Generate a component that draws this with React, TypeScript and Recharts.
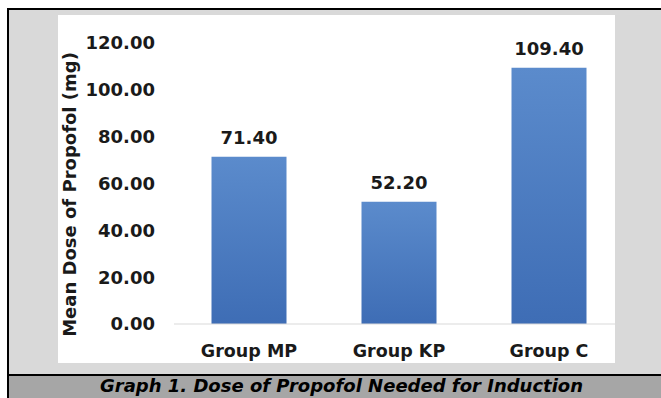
import React from 'react';
import { BarChart, Bar, XAxis, YAxis, LabelList } from 'recharts';

const groups = ['Group MP', 'Group KP', 'Group C'];
const meanDose = [71.4, 52.2, 109.4];
const yTicks = [0, 20, 40, 60, 80, 100, 120];

const FONT = '"DejaVu Sans", Verdana, sans-serif';

const data = groups.map((g, i) => ({ group: g, dose: meanDose[i] }));

const fmt = (v: number) => v.toFixed(2);

// rotated y-axis title, placed relative to the axis box
const YTitle = (props: any) => {
  const { viewBox } = props;
  const cx = viewBox.x + 5;
  const cy = viewBox.y + viewBox.height / 2 + 11;
  return (
    <text
      x={cx}
      y={cy}
      transform={`rotate(-90 ${cx} ${cy})`}
      textAnchor="middle"
      dominantBaseline="central"
      fontFamily={FONT}
      fontWeight="bold"
      fontSize={18}
      fill="#1a1a1a"
    >
      Mean Dose of Propofol (mg)
    </text>
  );
};

const App: React.FC = () => {
  return (
    <div style={{ position: 'absolute', left: 0, top: 0, width: 661, height: 398, overflow: 'hidden', background: '#fff' }}>
      {/* framed grey panel */}
      <div style={{ position: 'absolute', left: 7, top: 8, width: 700, height: 400, background: '#d9d9d9', borderTop: '2px solid #000', borderLeft: '2px solid #000' }} />
      {/* white chart area */}
      <div style={{ position: 'absolute', left: 58, top: 15, width: 557, height: 348, background: '#fff' }} />
      {/* caption strip */}
      <div
        style={{
          position: 'absolute', left: 9, top: 374, width: 700, height: 30, background: '#a6a6a6',
          borderTop: '2px solid #000',
        }}
      />
      <div
        style={{
          position: 'absolute', left: 100, top: 375, fontFamily: FONT, fontWeight: 'bold', fontStyle: 'italic',
          fontSize: 18, lineHeight: '22px', color: '#000', whiteSpace: 'nowrap',
        }}
      >
        Graph 1. Dose of Propofol Needed for Induction
      </div>

      <div style={{ position: 'absolute', left: 0, top: 0 }}>
        <BarChart width={661} height={398} data={data} margin={{ top: 43, right: 37, bottom: 44, left: 64 }} barCategoryGap="25%">
          <defs>
            <linearGradient id="barFill" x1="0" y1="0" x2="0" y2="1">
              <stop offset="0%" stopColor="#5b8bcc" />
              <stop offset="100%" stopColor="#3e6db5" />
            </linearGradient>
          </defs>
          <XAxis
            dataKey="group"
            axisLine={{ stroke: '#d9d9d9' }}
            tickLine={false}
            tickSize={0}
            tickMargin={21}
            tick={{ fontFamily: FONT, fontWeight: 'bold', fontSize: 17.5, fill: '#1a1a1a' }}
          />
          <YAxis
            width={110}
            domain={[0, 120]}
            ticks={yTicks}
            axisLine={false}
            tickLine={false}
            tickSize={0}
            tickMargin={19}
            tickFormatter={fmt}
            tick={{ fontFamily: FONT, fontWeight: 'bold', fontSize: 18, fill: '#1a1a1a' }}
            label={{ content: <YTitle /> }}
          />
          <Bar dataKey="dose" fill="url(#barFill)" isAnimationActive={false}>
            <LabelList
              dataKey="dose"
              position="top"
              offset={13}
              formatter={(v: any) => fmt(Number(v))}
              style={{ fontFamily: FONT, fontWeight: 'bold', fontSize: 18, fill: '#1a1a1a' }}
            />
          </Bar>
        </BarChart>
      </div>
    </div>
  );
};

export default App;
